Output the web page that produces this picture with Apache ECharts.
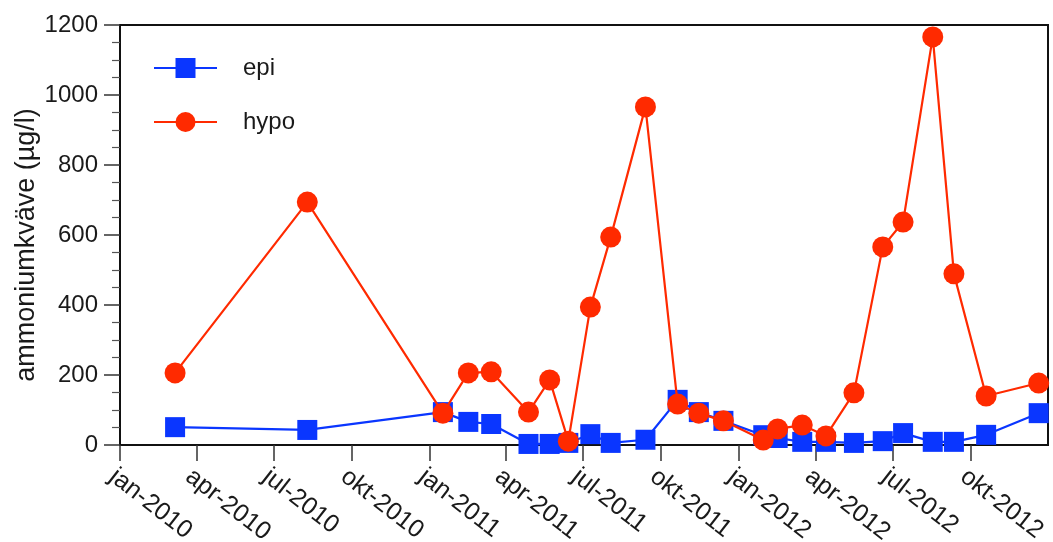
<!DOCTYPE html>
<html>
<head>
<meta charset="utf-8">
<script src="https://cdn.jsdelivr.net/npm/echarts@6/dist/echarts.min.js"></script>
<style>
  html, body { margin: 0; padding: 0; background: #fff; }
  #chart { width: 1053px; height: 542px; }
</style>
</head>
<body>
<div id="chart"></div>
<script>
// Sampling dates (yyyy-MM-dd)
const sampleDates = [
  '2010-03-07', '2010-08-10', '2011-01-17', '2011-02-16', '2011-03-15',
  '2011-04-28', '2011-05-23', '2011-06-14', '2011-07-10', '2011-08-03',
  '2011-09-13', '2011-10-21', '2011-11-15', '2011-12-14', '2012-01-30',
  '2012-02-16', '2012-03-16', '2012-04-13', '2012-05-16', '2012-06-19',
  '2012-07-13', '2012-08-17', '2012-09-11', '2012-10-19', '2012-12-20'
];

// Ammonium nitrogen, µg/l
const epiValues = [
  51, 43, 94, 66, 60,
  3, 3, 6, 31, 6,
  15, 129, 94, 69, 28,
  20, 9, 9, 6, 11,
  34, 9, 9, 29, 91
];
const hypoValues = [
  206, 694, 91, 206, 209,
  94, 186, 11, 394, 594,
  966, 117, 91, 69, 14,
  46, 57, 26, 149, 566,
  637, 1166, 489, 140, 177
];

// Month names for the quarter tick labels
const monthNames = ['jan', 'feb', 'mar', 'apr', 'maj', 'jun', 'jul', 'aug', 'sep', 'okt', 'nov', 'dec'];

const toTime = s => {
  const p = s.split('-').map(Number);
  return new Date(p[0], p[1] - 1, p[2]).getTime();
};

const epiData = sampleDates.map((d, i) => [toTime(d), epiValues[i]]);
const hypoData = sampleDates.map((d, i) => [toTime(d), hypoValues[i]]);

const FONT = '"Liberation Sans", Arial, Helvetica, sans-serif';
const TEXT = '#1a1a1a';
const BLUE = '#0a36ff';
const RED = '#ff2a00';
const DAY = 86400000;

const chart = echarts.init(document.getElementById('chart'), null, { renderer: 'canvas' });
chart.setOption({
  animation: false,
  textStyle: { fontFamily: FONT },
  grid: {
    left: 120, right: 5, top: 25, bottom: 97,
    outerBoundsMode: 'none',
    containLabel: false,
    show: true, borderColor: '#111', borderWidth: 2, backgroundColor: 'transparent'
  },
  legend: {
    orient: 'vertical',
    left: 153, top: 56,
    padding: 0,
    itemWidth: 63, itemHeight: 25, itemGap: 30,
    textStyle: { fontSize: 24, color: TEXT, fontFamily: FONT, padding: [0, 0, 0, 21] },
    data: ['epi', 'hypo']
  },
  xAxis: {
    type: 'time',
    min: toTime('2010-01-01'),
    max: toTime('2012-12-31'),
    splitNumber: 10,
    minInterval: 100 * DAY,
    maxInterval: 120 * DAY,
    axisLine: { lineStyle: { color: '#111', width: 2 } },
    axisTick: { show: true, length: 16, inside: false, lineStyle: { color: '#333', width: 1.5 } },
    axisLabel: {
      rotate: -38,
      verticalAlign: 'top',
      margin: 19,
      fontSize: 25,
      color: TEXT,
      fontFamily: FONT,
      showMaxLabel: false,
      formatter: v => {
        const d = new Date(v);
        return monthNames[d.getMonth()] + '-' + d.getFullYear();
      }
    },
    splitLine: { show: false }
  },
  yAxis: {
    type: 'value',
    min: 0, max: 1200, interval: 200,
    name: 'ammoniumkväve (µg/l)',
    nameLocation: 'middle',
    nameGap: 80,
    nameMoveOverlap: false,
    nameTextStyle: { fontSize: 27, color: TEXT, fontFamily: FONT, padding: [0, 20, 0, 0] },
    axisLine: { show: true, lineStyle: { color: '#111', width: 2 } },
    axisTick: { show: true, length: 16, lineStyle: { color: '#333', width: 1.5 } },
    minorTick: { show: true, splitNumber: 4, length: 8, lineStyle: { color: '#555', width: 1.2 } },
    axisLabel: { fontSize: 24, color: TEXT, margin: 22, fontFamily: FONT, formatter: v => String(v) },
    splitLine: { show: false }
  },
  series: [
    {
      name: 'epi',
      type: 'line',
      data: epiData,
      symbol: 'rect',
      symbolSize: 20,
      lineStyle: { color: BLUE, width: 2.2 },
      itemStyle: { color: BLUE },
      z: 2
    },
    {
      name: 'hypo',
      type: 'line',
      data: hypoData,
      symbol: 'circle',
      symbolSize: 21,
      lineStyle: { color: RED, width: 2.2 },
      itemStyle: { color: RED },
      z: 3
    }
  ]
});
</script>
</body>
</html>
